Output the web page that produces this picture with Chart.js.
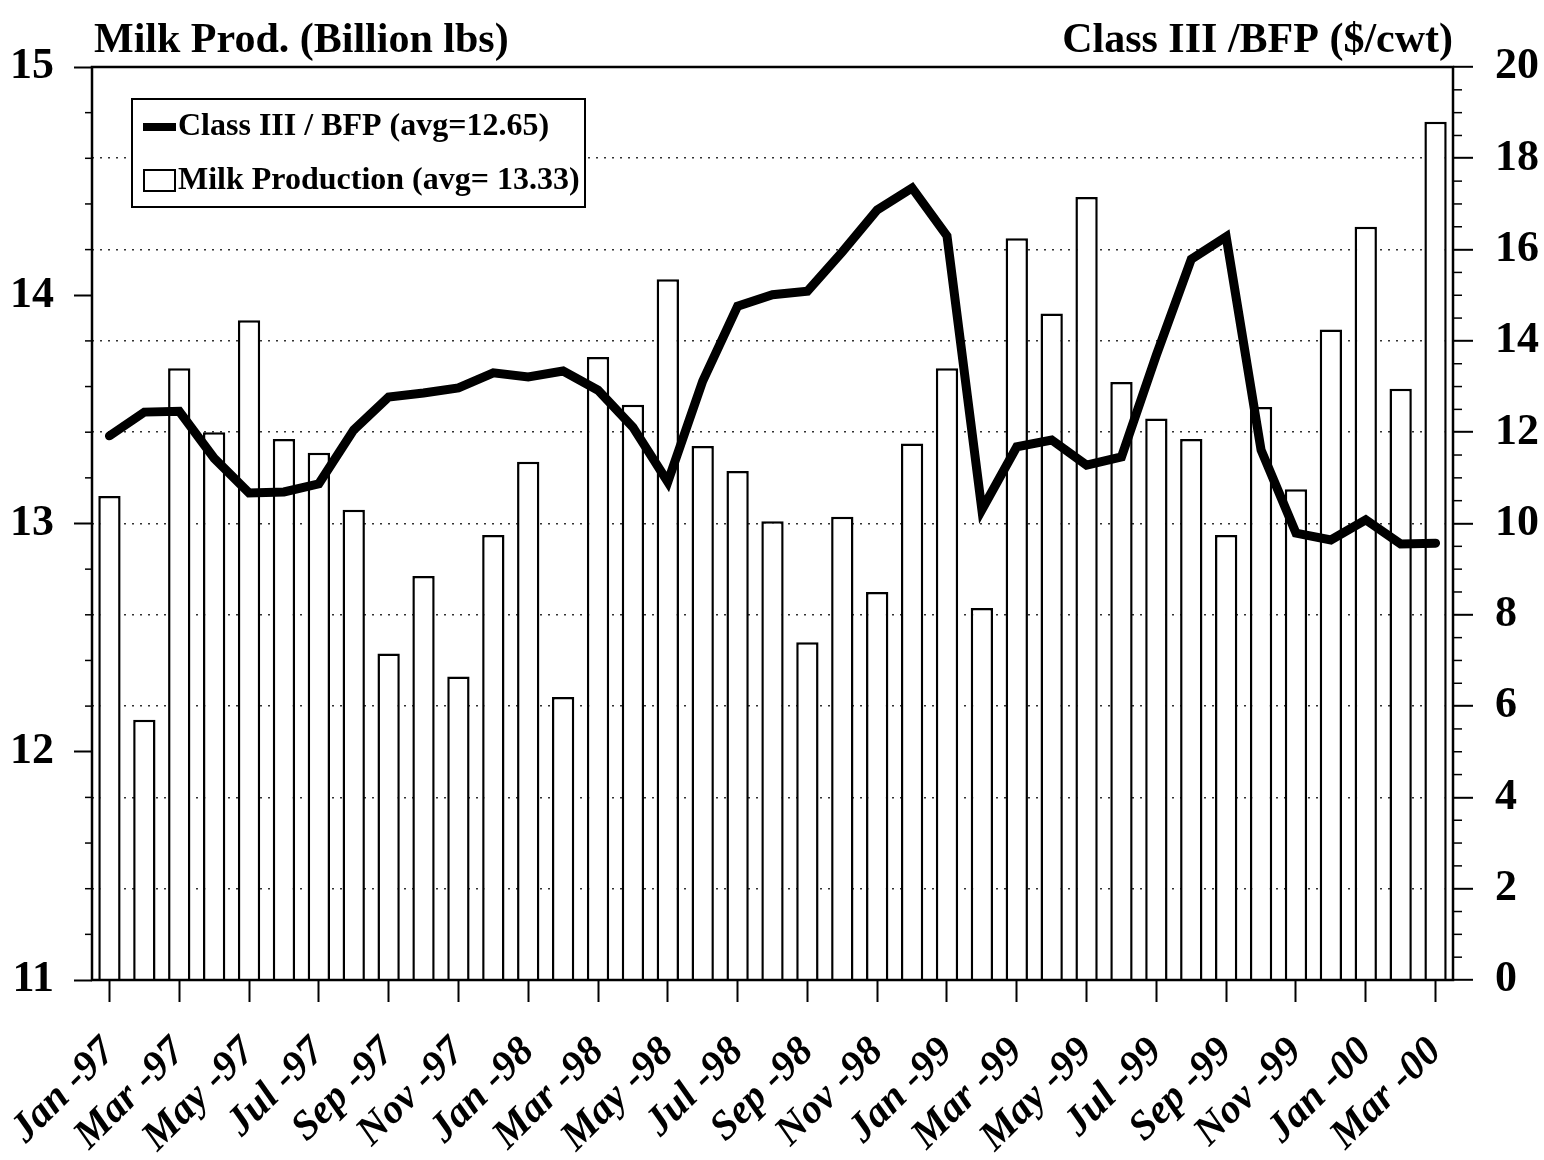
<!DOCTYPE html>
<html><head><meta charset="utf-8">
<script src="https://cdn.jsdelivr.net/npm/chart.js@4.4.1/dist/chart.umd.min.js"></script>
<style>html,body{margin:0;padding:0;background:#fff}#wrap{width:1544px;height:1160px}</style>
</head><body><div id="wrap"><canvas id="c" width="1544" height="1160"></canvas></div>
<script>
const categories = [
  "Jan -97","Feb -97","Mar -97","Apr -97","May -97","Jun -97","Jul -97","Aug -97","Sep -97","Oct -97","Nov -97","Dec -97",
  "Jan -98","Feb -98","Mar -98","Apr -98","May -98","Jun -98","Jul -98","Aug -98","Sep -98","Oct -98","Nov -98","Dec -98",
  "Jan -99","Feb -99","Mar -99","Apr -99","May -99","Jun -99","Jul -99","Aug -99","Sep -99","Oct -99","Nov -99","Dec -99",
  "Jan -00","Feb -00","Mar -00"
];
const milkProduction = [
  13.12,12.14,13.68,13.40,13.89,13.37,13.31,13.06,12.43,12.77,12.33,12.95,
  13.27,12.24,13.73,13.52,14.07,13.34,13.23,13.01,12.48,13.03,12.70,13.35,
  13.68,12.63,14.25,13.92,14.43,13.62,13.46,13.37,12.95,13.51,13.15,13.85,
  14.30,13.59,14.76
];
const classIIIPrice = [
  11.92,12.44,12.46,11.43,10.67,10.69,10.87,12.05,12.77,12.86,12.97,13.30,
  13.21,13.34,12.92,12.11,10.91,13.12,14.76,15.01,15.09,15.95,16.87,17.35,
  16.30,10.30,11.68,11.83,11.28,11.46,13.69,15.79,16.28,11.61,9.79,9.64,
  10.08,9.55,9.57
];
const leftAxisTitle = "Milk Prod. (Billion lbs)";
const rightAxisTitle = "Class III /BFP ($/cwt)";
const lineLabel = "Class III / BFP (avg=12.65)";
const barLabel = "Milk Production (avg= 13.33)";
const leftTickRange = [11, 15, 1];
const rightTickRange = [0, 20, 2];

const SERIF = "'Liberation Serif','Times New Roman',serif";

const decorPlugin = {
  id: 'decor',
  afterDraw(chart) {
    const ctx = chart.ctx, a = chart.chartArea;
    ctx.save();
    // frame
    ctx.strokeStyle = '#000'; ctx.lineWidth = 2.5;
    ctx.strokeRect(a.left, a.top, a.right - a.left, a.bottom - a.top);
    // minor ticks
    const yl = chart.scales.y, yr = chart.scales.y1;
    ctx.lineWidth = 1.5;
    for (let v = leftTickRange[0]; v <= leftTickRange[1] + 1e-9; v += 0.2) {
      const r = Math.round(v * 10) / 10;
      if (Math.abs(r - Math.round(r)) < 1e-6) continue;
      const py = yl.getPixelForValue(r);
      ctx.beginPath(); ctx.moveTo(a.left - 7, py); ctx.lineTo(a.left, py); ctx.stroke();
    }
    for (let v = rightTickRange[0]; v <= rightTickRange[1] + 1e-9; v += 0.5) {
      if (Math.abs(v / 2 - Math.round(v / 2)) < 1e-6) continue;
      const py = yr.getPixelForValue(v);
      ctx.beginPath(); ctx.moveTo(a.right, py); ctx.lineTo(a.right + 9, py); ctx.stroke();
    }
    // axis titles
    ctx.fillStyle = '#000';
    ctx.font = "bold 42px " + SERIF;
    ctx.textBaseline = 'alphabetic';
    ctx.textAlign = 'left';
    ctx.fillText(leftAxisTitle, a.left + 2, 52);
    ctx.textAlign = 'right';
    ctx.fillText(rightAxisTitle, a.right, 52);
    // legend
    const lx = a.left + 40, ly = a.top + 32, lw = 453, lh = 108;
    ctx.fillStyle = '#fff';
    ctx.fillRect(lx, ly, lw, lh);
    ctx.strokeStyle = '#000'; ctx.lineWidth = 2;
    ctx.strokeRect(lx, ly, lw, lh);
    ctx.lineWidth = 8;
    ctx.beginPath(); ctx.moveTo(lx + 11, ly + 28); ctx.lineTo(lx + 44, ly + 28); ctx.stroke();
    ctx.lineWidth = 2;
    ctx.strokeRect(lx + 12, ly + 71, 31, 21);
    ctx.fillStyle = '#000';
    ctx.font = "bold 32px " + SERIF;
    ctx.textAlign = 'left'; ctx.textBaseline = 'middle';
    ctx.fillText(chart.data.datasets[0].label, lx + 46, ly + 28);
    ctx.fillText(chart.data.datasets[1].label, lx + 46, ly + 82);
    ctx.restore();
  }
};

new Chart(document.getElementById('c'), {
  type: 'bar',
  data: {
    labels: categories,
    datasets: [
      {
        type: 'line', label: lineLabel, data: classIIIPrice, yAxisID: 'y1',
        borderColor: '#000', borderWidth: 9, pointRadius: 0, tension: 0, fill: false,
        order: 0, borderJoinStyle: 'miter', borderCapStyle: 'round'
      },
      {
        type: 'bar', label: barLabel, data: milkProduction, yAxisID: 'y',
        backgroundColor: '#fff', borderColor: '#000', borderWidth: 2.5,
        barPercentage: 0.64, categoryPercentage: 1.0, order: 1
      }
    ]
  },
  options: {
    responsive: false, animation: false, devicePixelRatio: 1,
    layout: { padding: { top: 67, left: 0, right: 0, bottom: 0 } },
    plugins: { legend: { display: false }, tooltip: { enabled: false }, title: { display: false } },
    scales: {
      x: {
        offset: true,
        afterFit(s) { s.height = 180; s.paddingLeft = 0; s.paddingRight = 0; },
        grid: { display: true, offset: false, drawOnChartArea: false, drawTicks: true, tickLength: 22,
                tickColor: '#000', tickWidth: 2, color: '#000' },
        border: { display: false },
        ticks: {
          autoSkip: false, maxRotation: 45, minRotation: 45, padding: 26, color: '#000',
          font: { family: SERIF, size: 41, style: 'italic', weight: 'bold' },
          callback(v, i) { return i % 2 === 0 ? categories[i] : null; }
        }
      },
      y: {
        position: 'left', min: leftTickRange[0], max: leftTickRange[1],
        afterFit(s) { s.width = 92; },
        grid: { display: true, drawOnChartArea: false, drawTicks: true, tickLength: 18, tickColor: '#000', tickWidth: 2 },
        border: { display: false },
        ticks: { stepSize: leftTickRange[2], padding: 20, color: '#000',
                 font: { family: SERIF, size: 44, weight: 'bold' } }
      },
      y1: {
        position: 'right', min: rightTickRange[0], max: rightTickRange[1],
        afterFit(s) { s.width = 91; },
        grid: {
          display: true, drawOnChartArea: true, drawTicks: true, tickLength: 20,
          tickColor: '#000', tickWidth: 2, lineWidth: 1.6,
          color(ctx) { const v = ctx.tick && ctx.tick.value; return (v === 0 || v === 20) ? 'rgba(0,0,0,0)' : '#333'; },
          tickBorderDash: [0, 0]
        },
        border: { display: false, dash: [2, 6] },
        ticks: { stepSize: rightTickRange[2], padding: 22, color: '#000',
                 font: { family: SERIF, size: 44, weight: 'bold' } }
      }
    }
  },
  plugins: [decorPlugin]
});
</script></body></html>
